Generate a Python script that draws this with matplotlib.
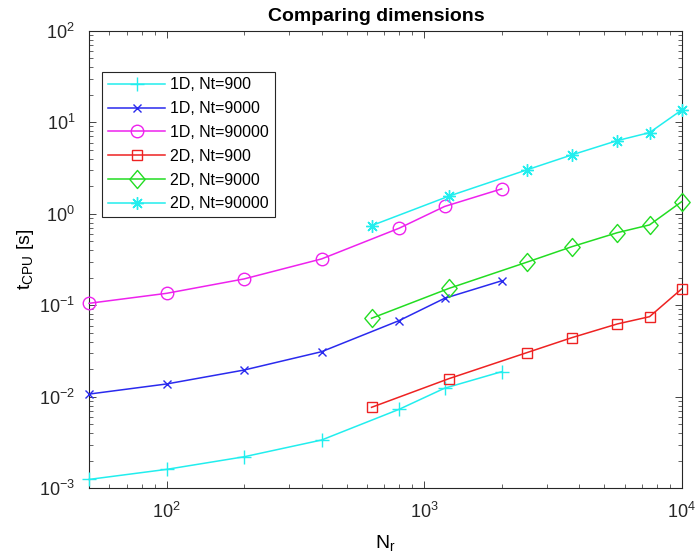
import matplotlib
matplotlib.use('Agg')
import matplotlib.pyplot as plt
from matplotlib.path import Path
from matplotlib.ticker import LogLocator, NullFormatter

plt.rcParams['font.family'] = ['Liberation Sans', 'DejaVu Sans']
plt.rcParams['mathtext.default'] = 'regular'

# Nr values
nr_1d = [50, 100, 200, 400, 800, 1200, 2000]
nr_2d = [625, 1250, 2500, 3750, 5625, 7500, 10000]

# CPU times [s]
t_1d_900 = [1.25e-3, 1.61e-3, 2.21e-3, 3.37e-3, 7.3e-3, 0.0124, 0.0188]
t_1d_9000 = [0.0107, 0.0138, 0.0196, 0.0311, 0.068, 0.119, 0.185]
t_1d_90000 = [0.105, 0.135, 0.194, 0.321, 0.695, 1.20, 1.87]
t_2d_900 = [7.67e-3, 0.0158, 0.0303, 0.0443, 0.0625, 0.075, 0.151]
t_2d_9000 = [0.0721, 0.153, 0.295, 0.437, 0.621, 0.755, 1.355]
t_2d_90000 = [0.741, 1.56, 3.01, 4.40, 6.30, 7.70, 13.6]

# matlab-ish diamond, a bit taller than wide
diamond = Path([(0, 1), (0.85, 0), (0, -1), (-0.85, 0), (0, 1)],
               [Path.MOVETO, Path.LINETO, Path.LINETO, Path.LINETO, Path.CLOSEPOLY])

fig = plt.figure(figsize=(6.96, 5.55), dpi=100)
ax = fig.add_axes([89/696, 1-488.3/555, (681.7-89)/696, (488.3-30.7)/555])

lw = 1.1
kw = dict(lw=lw, mew=1, clip_on=False, zorder=3)
ax.plot(nr_1d, t_1d_900, color='#22eeee', marker='+', ms=10, label='1D, Nt=900', **kw)
ax.plot(nr_1d, t_1d_9000, color='#2a2aee', marker='x', ms=6, label='1D, Nt=9000', **kw)
ax.plot(nr_1d, t_1d_90000, color='#ee22ee', marker='o', ms=9, mfc='none', label='1D, Nt=90000', **kw)
ax.plot(nr_2d, t_2d_900, color='#ee2222', marker='s', ms=7.5, mfc='none', label='2D, Nt=900', **kw)
ax.plot(nr_2d, t_2d_9000, color='#22dd22', marker=diamond, ms=13, mfc='none', label='2D, Nt=9000', **kw)
ax.plot(nr_2d, t_2d_90000, color='#22eeee', marker=(8, 2, 0), ms=9, label='2D, Nt=90000', **kw)

ax.set_xscale('log')
ax.set_yscale('log')
ax.set_xlim(50, 1e4)
ax.set_ylim(1e-3, 1e2)
ax.xaxis.set_major_locator(LogLocator(base=10, numticks=10))
ax.yaxis.set_major_locator(LogLocator(base=10, numticks=10))
ax.xaxis.set_minor_locator(LogLocator(base=10, subs=range(2, 10), numticks=20))
ax.yaxis.set_minor_locator(LogLocator(base=10, subs=range(2, 10), numticks=20))
ax.xaxis.set_minor_formatter(NullFormatter())
ax.yaxis.set_minor_formatter(NullFormatter())

edge = '#262626'
for s in ax.spines.values():
    s.set_color(edge)
    s.set_linewidth(0.8)
ax.tick_params(which='both', direction='in', top=True, right=True, colors=edge,
               labelcolor='#262626', labelsize=13)
ax.tick_params(which='major', length=5, width=0.6, pad=10)
ax.tick_params(which='minor', length=3, width=0.5)

ax.set_title('Comparing dimensions', fontsize=14, fontweight='bold', pad=7, x=0.485)
ax.set_xlabel('N$_r$', fontsize=14, labelpad=8)
ax.set_ylabel('t$_{CPU}$ [s]', fontsize=14, labelpad=2)

leg = ax.legend(loc='upper left', bbox_to_anchor=(0.0225, 0.91), fontsize=11.5,
                fancybox=False, edgecolor=edge, framealpha=1, handlelength=3.6,
                borderpad=0.35, labelspacing=0.55, handletextpad=0.3, borderaxespad=0)
leg.get_frame().set_linewidth(0.8)

fig.savefig('out.png', dpi=100)
